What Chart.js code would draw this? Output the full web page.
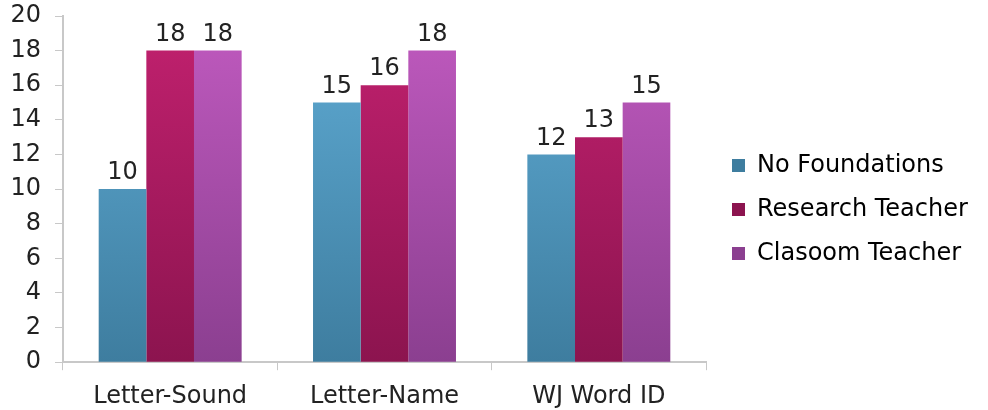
<!DOCTYPE html>
<html>
<head>
<meta charset="utf-8">
<script src="https://cdn.jsdelivr.net/npm/chart.js@4"></script>
<style>
    html, body { margin: 0; padding: 0; background: #fff; }
    #wrap { width: 988px; height: 410px; position: relative; }
</style>
</head>
<body>
<div id="wrap"><canvas id="chart-scores"></canvas></div>
<script>
const categories = ['Letter-Sound', 'Letter-Name', 'WJ Word ID'];
const noFoundations = [10, 15, 12];
const researchTeacher = [18, 16, 13];
const classroomTeacher = [18, 18, 15];
const seriesNames = ['No Foundations', 'Research Teacher', 'Clasoom Teacher'];
const yTicks = [0, 2, 4, 6, 8, 10, 12, 14, 16, 18, 20];

const FONT = 'DejaVu Sans';
const SIZE = 24;

// top / bottom colours of each bar gradient
const shades = [
    ['#5fabd4', '#3e7d9f'],
    ['#c2216f', '#8c144f'],
    ['#c05abf', '#8b3f90'],
];

function gradientFor(i) {
    return ctx => {
        const area = ctx.chart.chartArea;
        if (!area) return shades[i][0];
        const g = ctx.chart.ctx.createLinearGradient(0, area.top, 0, area.bottom);
        g.addColorStop(0, shades[i][0]);
        g.addColorStop(1, shades[i][1]);
        return g;
    };
}

// value labels above each bar
const valueLabels = {
    id: 'valueLabels',
    afterDatasetsDraw(chart) {
        const c = chart.ctx;
        c.save();
        c.font = SIZE + 'px "' + FONT + '"';
        c.fillStyle = '#222';
        c.textAlign = 'center';
        c.textBaseline = 'bottom';
        chart.data.datasets.forEach((ds, i) => {
            chart.getDatasetMeta(i).data.forEach((bar, j) => {
                c.fillText(String(ds.data[j]), bar.x, bar.y - 4);
            });
        });
        c.restore();
    },
};

// fixed legend width so the plot ends where the reference does
const legendBox = {
    id: 'legendBox',
    beforeInit(chart) {
        const lg = chart.legend;
        const fit = lg.fit;
        lg.fit = function () {
            fit.call(this);
            this.width = 282;
        };
    },
    afterLayout(chart) {
        chart.legend.left += 6;
        chart.legend.right += 6;
        chart.legend.top -= 2;
        chart.legend.bottom -= 2;
    },
};

const values = [noFoundations, researchTeacher, classroomTeacher];

new Chart(document.getElementById('chart-scores'), {
    type: 'bar',
    data: {
        labels: categories,
        datasets: seriesNames.map((name, i) => ({
            label: name,
            data: values[i],
            backgroundColor: gradientFor(i),
            borderWidth: 0,
            categoryPercentage: 0.667,
            barPercentage: 1.0,
        })),
    },
    options: {
        responsive: true,
        maintainAspectRatio: false,
        animation: false,
        layout: { padding: { top: 0, left: 0, right: 0, bottom: -13 } },
        plugins: {
            tooltip: { enabled: false },
            legend: {
                position: 'right',
                labels: {
                    color: '#222',
                    font: { family: FONT, size: SIZE },
                    boxWidth: 13,
                    boxHeight: 13,
                    padding: 20,
                    generateLabels: chart => seriesNames.map((n, i) => ({
                        text: n,
                        fillStyle: shades[i][1],
                        strokeStyle: shades[i][1],
                        lineWidth: 0,
                        datasetIndex: i,
                    })),
                },
            },
        },
        scales: {
            x: {
                grid: {
                    offset: true,
                    drawOnChartArea: false,
                    tickLength: 8,
                    color: '#c8c8c8',
                },
                border: { color: '#c8c8c8', width: 2 },
                ticks: { color: '#222', font: { family: FONT, size: SIZE }, padding: 12 },
            },
            y: {
                min: 0,
                max: 20,
                afterBuildTicks: scale => {
                    scale.ticks = yTicks.map(v => ({ value: v }));
                },
                afterFit: scale => {
                    scale.width = 63;
                    scale.paddingTop = 16;
                },
                grid: {
                    drawOnChartArea: false,
                    tickLength: 8,
                    color: '#c8c8c8',
                },
                border: { color: '#c8c8c8', width: 2 },
                ticks: { color: '#222', font: { family: FONT, size: SIZE }, padding: 14 },
            },
        },
    },
    plugins: [valueLabels, legendBox],
});
</script>
</body>
</html>
